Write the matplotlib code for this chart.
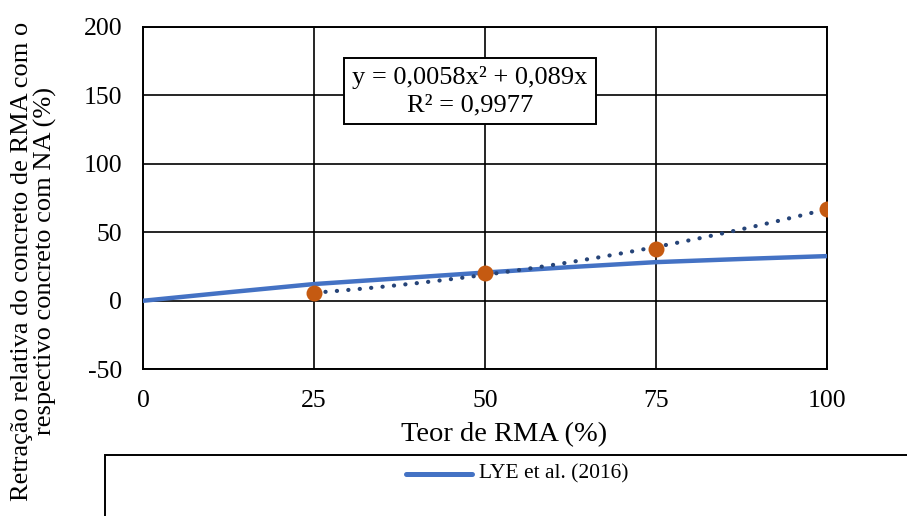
import matplotlib
matplotlib.use("Agg")
import matplotlib.pyplot as plt
import numpy as np
from matplotlib.patches import Rectangle
from matplotlib.lines import Line2D

plt.rcParams['font.family'] = ['Liberation Serif', 'DejaVu Serif']
plt.rcParams['axes.unicode_minus'] = False

# Measured relative shrinkage of RMA concrete (%)
teor_rma = [25, 50, 75, 100]
retracao = [5.4, 20.0, 37.7, 66.9]

# Reference curve LYE et al. (2016)
lye_x = [0, 12.5, 25, 37.5, 50, 62.5, 75, 87.5, 100]
lye_y = [0, 6.2, 12.2, 16.4, 20.6, 24.6, 28.2, 30.5, 32.6]

# Polynomial trendline coefficients (y = a x^2 + b x)
coef_a = 0.0058
coef_b = 0.089
r2_text = "0,9977"

x_ticks = [0, 25, 50, 75, 100]
y_ticks = [-50, 0, 50, 100, 150, 200]

fig = plt.figure(figsize=(9.07, 5.16), dpi=100)
ax = fig.add_axes([143/907, 1 - 369.3/516, (827 - 143)/907, (369.3 - 26.7)/516])

ax.set_xlim(0, 100)
ax.set_ylim(-50, 200)
ax.set_xticks(x_ticks)
ax.set_yticks(y_ticks)
ax.grid(True, color='black', linewidth=1.2)
ax.set_axisbelow(True)
for s in ax.spines.values():
    s.set_color('black')
    s.set_linewidth(1.4)
ax.tick_params(length=0, labelsize=18.5)
ax.tick_params(axis='y', pad=15)
ax.tick_params(axis='x', pad=15)

ax.plot(lye_x, lye_y, color='#4472C4', linewidth=3.2, solid_capstyle='round', zorder=3)

tx = np.linspace(min(teor_rma), max(teor_rma), 200)
ty = coef_a * tx**2 + coef_b * tx
ax.plot(tx, ty, color='#264478', linewidth=3.0, linestyle=(0, (0.05, 2.7)),
        dash_capstyle='round', zorder=4)

ax.plot(teor_rma, retracao, 'o', color='#C55A11', markersize=11.5,
        markeredgewidth=0, zorder=5)

ax.text(0.478, 0.812,
        "y = 0,0058x² + 0,089x\nR² = " + r2_text,
        transform=ax.transAxes, ha='center', va='center', fontsize=19,
        linespacing=1.3,
        bbox=dict(boxstyle='square,pad=0.3', facecolor='white',
                  edgecolor='black', linewidth=1.4), zorder=6)

fig.text(504/907, 1 - 435/516, "Teor de RMA (%)", ha='center', va='center',
         fontsize=20.5)
fig.text(34/907, 1 - 261/516,
         "Retração relativa do concreto de RMA com o\nrespectivo concreto com NA (%)",
         ha='center', va='center', rotation=90, fontsize=19, linespacing=1.0)

# Legend frame below the plot
fig.patches.append(Rectangle((105/907, -0.05), 1.0, 1 - 455/516 + 0.05,
                             transform=fig.transFigure, facecolor='white',
                             edgecolor='black', linewidth=1.4))
ly = 1 - 474/516
fig.lines.append(Line2D([406/907, 472/907], [ly, ly], transform=fig.transFigure,
                        color='#4472C4', linewidth=3.6, solid_capstyle='round'))
fig.text(479/907, ly, "LYE et al. (2016)", ha='left', va='center', fontsize=15.5)

fig.savefig("out.png", dpi=100)
